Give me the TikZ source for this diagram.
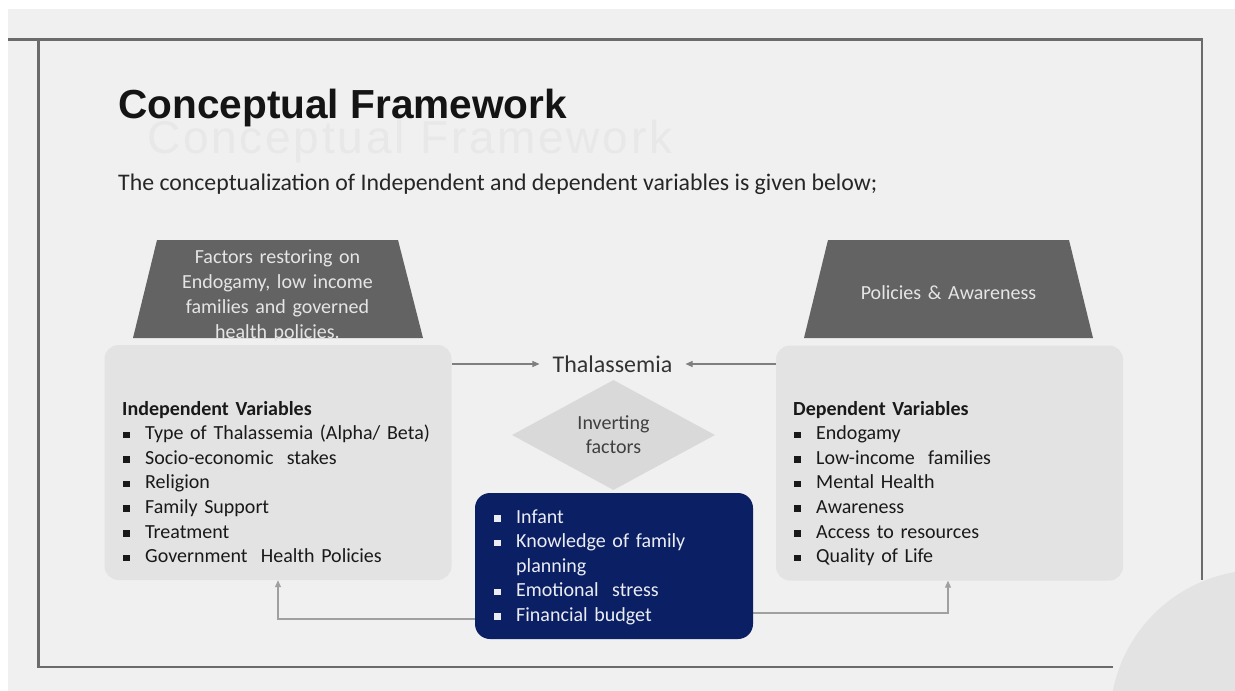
\documentclass[tikz,border=0pt]{standalone}
\usepackage{fontspec}
\setmainfont{Carlito}
\newfontfamily\titlefont{Liberation Sans}
\newfontfamily\ghostfont[LetterSpace=6]{Liberation Sans}
\usetikzlibrary{shapes.geometric,arrows.meta,positioning}
\definecolor{slidebg}{HTML}{F0F0F0}
\definecolor{framegray}{HTML}{6B6B6B}
\definecolor{capgray}{HTML}{636363}
\definecolor{boxgray}{HTML}{E3E3E3}
\definecolor{diagray}{HTML}{D9D9D9}
\definecolor{navy}{HTML}{0B1F65}
\definecolor{ghostgray}{HTML}{E8E8E8}
\definecolor{circgray}{HTML}{E3E3E3}
\definecolor{linkgray}{HTML}{7F7F7F}
\definecolor{footgray}{HTML}{A0A0A0}
\newcommand{\sqbul}{\makebox[23pt][l]{\hspace{1pt}\rule[1.5pt]{6.5pt}{6.5pt}}}

\begin{document}
\begin{tikzpicture}[x=1pt,y=-1pt,
  captext/.style={anchor=base, text width=250pt, align=center, inner sep=0,
    text=white!90!black, font=\fontsize{20}{25}\selectfont},
  varbox/.style={rectangle, rounded corners=14pt, fill=boxgray,
    minimum width=347, minimum height=235},
  vartext/.style={anchor=base west, text width=320pt, align=left, inner sep=0,
    text=black!90, font=\fontsize{20}{24.6}\selectfont},
  link/.style={draw=linkgray, line width=1.1pt, -{Triangle[length=7pt,width=6pt]}},
  foot/.style={link, draw=footgray}]

% slide background, margins included
\useasboundingbox (0,0) rectangle (1235,691);
\fill[white] (0,0) rectangle (1235,691);
\fill[slidebg] (8,9) rectangle (1235,691);
\begin{scope}
  \clip (0,0) rectangle (1235,691);
  \fill[circgray] (1260,720) circle[radius=150];
\end{scope}

% frame
\draw[framegray, line width=2.6pt] (8,39.5) -- (1202,39.5) -- (1202,580);
\draw[framegray, line width=2.6pt] (38.5,39.5) -- (38.5,667) -- (1113,667);

% heading
\node[anchor=base west, inner sep=0, text=ghostgray,
  font=\ghostfont\fontsize{46}{52}\selectfont] (ghost) at (147,153) {Conceptual Framework};
\node[anchor=base west, inner sep=0, text=black!92,
  font=\titlefont\bfseries\fontsize{40.6}{48}\selectfont] (title) at (118,118) {Conceptual Framework};
\node[anchor=base west, inner sep=0, text=black!85,
  font=\fontsize{23.8}{28}\selectfont] (intro) at (118,190)
  {The conceptualization of Independent and dependent variables is given below;};

% caps over the two variable boxes
\fill[capgray] (157,240) -- (398,240) -- (423,338) -- (133,338) -- cycle;
\fill[capgray] (828,240) -- (1069,240) -- (1093,338) -- (804,338) -- cycle;
\node[captext] (leftcaptext) at (277.5,263)
  {Factors restoring on\\Endogamy, low income\\families and governed\\health policies.};
\node[captext] (rightcaptext) at (948.5,299) {Policies \& Awareness};

% variable boxes
\node[varbox] (ivbox) at (278,462.5) {};
\node[varbox] (dvbox) at (949.5,463) {};
\node[vartext] (ivlist) at (122,415)
  {\textbf{Independent Variables}\\
   \sqbul Type of Thalassemia (Alpha/ Beta)\\
   \sqbul Socio-economic\ \ stakes\\
   \sqbul Religion\\
   \sqbul Family Support\\
   \sqbul Treatment\\
   \sqbul Government\ \ Health Policies};
\node[vartext] (dvlist) at (793,415)
  {\textbf{Dependent Variables}\\
   \sqbul Endogamy\\
   \sqbul Low-income\ \ families\\
   \sqbul Mental Health\\
   \sqbul Awareness\\
   \sqbul Access to resources\\
   \sqbul Quality of Life};

% centre: outcome, diamond and intervening factors
\node[inner xsep=13pt, text=black!80, font=\fontsize{24}{28}\selectfont] (thal) at (612.5,364) {Thalassemia};
\draw[link] (ivbox.east |- thal) -- (thal.west);
\draw[link] (dvbox.west |- thal) -- (thal.east);

\node[diamond, fill=diagray, minimum width=203, minimum height=108, inner sep=0,
  align=center, text=black!75, font=\fontsize{20}{24}\selectfont] (invert) at (613.5,435)
  {Inverting\\factors};

\coordinate (leftfoot) at (278,619);
\coordinate (rightfoot) at (948,613);
\draw[foot] (614,619) -- (leftfoot) -- (ivbox.south);
\draw[foot] (614,613) -- (rightfoot) -- (rightfoot |- dvbox.south);

\node[rectangle, rounded corners=15pt, fill=navy, minimum width=278, minimum height=146]
  (factbox) at (614,566) {};
\node[vartext, text=white!92!navy] (factlist) at (493,523)
  {\sqbul Infant\\
   \sqbul Knowledge of family\\
   \hspace*{23pt}planning\\
   \sqbul Emotional\ \ stress\\
   \sqbul Financial budget};
\end{tikzpicture}
\end{document}
